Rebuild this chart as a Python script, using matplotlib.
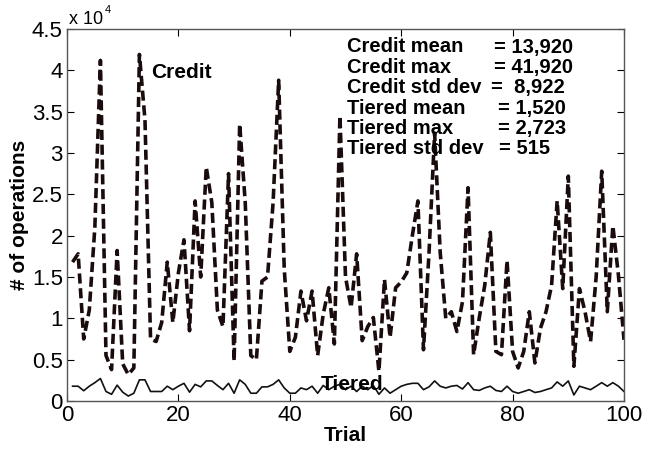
import matplotlib
matplotlib.use('Agg')
import matplotlib.pyplot as plt
from matplotlib.ticker import FuncFormatter

plt.rcParams['font.family'] = ['Liberation Sans', 'DejaVu Sans']

# operations per trial
trials = list(range(1, 101))
credit = [16800, 17800, 7500, 11000, 21000, 41200, 5500, 3800, 18200, 4500,
          3200, 4000, 41920, 34000, 7500, 7200, 9500, 16800, 9500, 15500,
          19500, 8500, 24200, 15000, 28300, 24000, 11000, 9000, 27500, 4800,
          33500, 24000, 5500, 5000, 14500, 15000, 24000, 38800, 16000, 6000,
          7700, 13300, 9700, 13300, 5500, 10500, 13700, 6900, 34500, 15000,
          11300, 17800, 7300, 9000, 10100, 3600, 14700, 7700, 13700, 14400,
          15500, 20000, 24200, 6200, 18000, 32400, 18000, 10000, 10800, 8400,
          12000, 25800, 5600, 10000, 14000, 20400, 6000, 5600, 17000, 6000,
          4000, 6000, 10800, 4600, 8800, 10800, 14000, 24200, 13600, 27200,
          4200, 13600, 10800, 7200, 15000, 27800, 10800, 21200, 15200, 7400]
tiered = [1790, 1790, 1240, 1790, 2220, 2720, 1150, 810, 1920, 1070,
          600, 940, 2560, 2560, 1150, 1150, 1150, 1790, 1370, 1790,
          2140, 1070, 2010, 1710, 2430, 2430, 1880, 1370, 2140, 940,
          2560, 2010, 940, 940, 1710, 1710, 2010, 2560, 1580, 940,
          940, 1580, 1370, 1790, 940, 1880, 1370, 1790, 2010, 1370,
          1790, 1150, 1790, 1370, 1880, 810, 1580, 940, 1370, 1790,
          2010, 2140, 2140, 1370, 1710, 2430, 1790, 1580, 1790, 1880,
          1450, 2220, 1370, 1280, 1580, 1790, 1280, 1150, 1790, 1150,
          940, 1150, 1370, 1030, 1150, 1370, 1580, 2310, 1790, 2430,
          730, 1790, 1580, 1370, 1790, 2220, 1790, 2220, 1790, 1150]

stat_labels = ['Credit mean', 'Credit max', 'Credit std dev', 'Tiered mean', 'Tiered max', 'Tiered std dev']
stat_values = ['13,920', '41,920', ' 8,922', '1,520', '2,723', '515']

W, H = 653, 449
fig = plt.figure(figsize=(W / 100, H / 100), dpi=100)
ax = fig.add_axes([67 / W, 1 - 401 / H, (624 - 67) / W, (401 - 29) / H])

ax.plot(trials, credit, color='#1a0c0c', lw=2.6, dashes=(2.8, 1.3))
ax.plot(trials, tiered, color='#111111', lw=1.2)

ax.set_xlim(0, 100)
ax.set_ylim(0, 45000)
ax.set_xticks([0, 20, 40, 60, 80, 100])
ax.set_yticks([i * 5000 for i in range(10)])
ax.yaxis.set_major_formatter(FuncFormatter(lambda v, p: '%g' % (v / 1e4)))
ax.tick_params(direction='in', length=5, top=True, right=True, labelsize=16, pad=3)
for s in ax.spines.values():
    s.set_color('#555555')
    s.set_linewidth(1.0)

ax.set_xlabel('Trial', fontsize=15, fontweight='bold', labelpad=0)
ax.set_ylabel('# of operations', fontsize=15, fontweight='bold', labelpad=2)

# axis multiplier
fig.text(69 / W, 1 - 20 / H, 'x 10', fontsize=13, va='center', ha='left')
fig.text(105 / W, 1 - 10 / H, '4', fontsize=8, va='center', ha='left')

fig.text(151 / W, 1 - 72 / H, 'Credit', fontsize=15, fontweight='bold', va='center', ha='left')
fig.text(321 / W, 1 - 384 / H, 'Tiered', fontsize=15, fontweight='bold', va='center', ha='left')

# stats block
eq_x = [494, 494, 491, 498, 498, 499]
for i, (lab, val) in enumerate(zip(stat_labels, stat_values)):
    y = 1 - (47 + i * 20.4) / H
    fig.text(347 / W, y, lab, fontsize=14.5, fontweight='bold', va='center', ha='left')
    fig.text(eq_x[i] / W, y, '= ' + val, fontsize=14.5, fontweight='bold', va='center', ha='left')

fig.savefig('out.png', dpi=100)
